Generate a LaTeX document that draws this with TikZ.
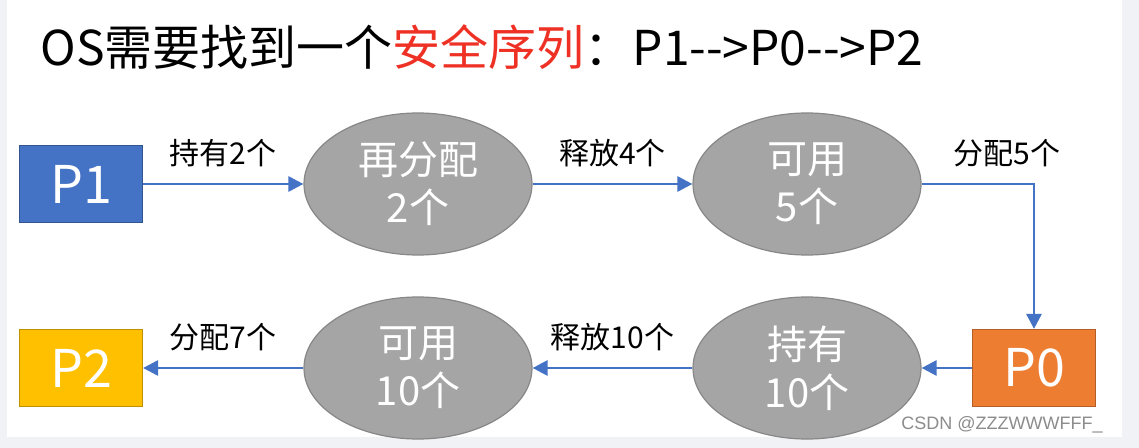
\documentclass[tikz,border=0pt]{standalone}
\usepackage{fontspec}
\setmainfont{Noto Sans CJK SC}
\newfontfamily\markfont{Liberation Sans}
\usetikzlibrary{shapes,arrows.meta,positioning}

\definecolor{pblue}{HTML}{4472C4}
\definecolor{porange}{HTML}{ED7D31}
\definecolor{pyellow}{HTML}{FFC000}
\definecolor{ellfill}{HTML}{A5A5A5}
\definecolor{elldraw}{HTML}{878787}
\definecolor{titlered}{HTML}{EE3124}
\definecolor{bggray}{HTML}{F0F2F5}
\definecolor{markgray}{HTML}{8C8C8C}

\begin{document}
\begin{tikzpicture}[x=0.5pt,y=-0.5pt,
    proc/.style={draw=#1!75!black, fill=#1, text=white, line width=0.6pt,
        minimum width=61.5pt, minimum height=38.5pt, inner sep=0pt,
        font=\fontsize{26}{30}\selectfont},
    res/.style={ellipse, draw=elldraw, fill=ellfill, text=white, line width=0.6pt,
        minimum width=114pt, minimum height=71pt, inner sep=0pt, align=center,
        font=\fontsize{20}{24}\selectfont},
    flow/.style={pblue, line width=1.4pt, -{Triangle[length=7.5pt,width=7.5pt]}},
    lbl/.style={inner sep=0pt, text=black, font=\fontsize{15}{18}\selectfont}]
            \fill[bggray] (0,0) rectangle (1139,448);
            \fill[white] (7,0) rectangle (1122,437);
            \useasboundingbox (0,0) rectangle (1139,448);

            \node[anchor=base west, inner sep=0pt, font=\fontsize{24}{28}\selectfont] (title) at (40,66)
                {OS需要找到一个\textcolor{titlered}{安全序列}：P1{-}{-}>P0{-}{-}>P2};

            \node[proc=pblue] (p1) at (81,184) {P1};
            \node[res] (realloc) at (418,184) {再分配\\2个};
            \node[res] (avail5) at (807,184) {可用\\5个};
            \node[proc=porange] (p0) at (1034,368) {P0};
            \node[res] (hold10) at (807,368) {持有\\10个};
            \node[res] (avail10) at (418,368) {可用\\10个};
            \node[proc=pyellow] (p2) at (81,368) {P2};

            \draw[flow] (p1.east) -- node[lbl, above=8pt]{持有2个} (realloc.west);
            \draw[flow] (realloc.east) -- node[lbl, above=8pt]{释放4个} (avail5.west);
            \draw[flow] (avail5.east) -| node[lbl, above=8pt, pos=0.38]{分配5个} (p0.north);
            \draw[flow] (p0.west) -- (hold10.east);
            \draw[flow] (hold10.west) -- node[lbl, above=8pt]{释放10个} (avail10.east);
            \draw[flow] (avail10.west) -- node[lbl, above=8pt]{分配7个} (p2.east);

            \node[anchor=base east, inner sep=0pt, text=markgray, font=\markfont\fontsize{9}{11}\selectfont] (mark) at (1103,429) {CSDN @ZZZWWWFFF\_};
\end{tikzpicture}
\end{document}
